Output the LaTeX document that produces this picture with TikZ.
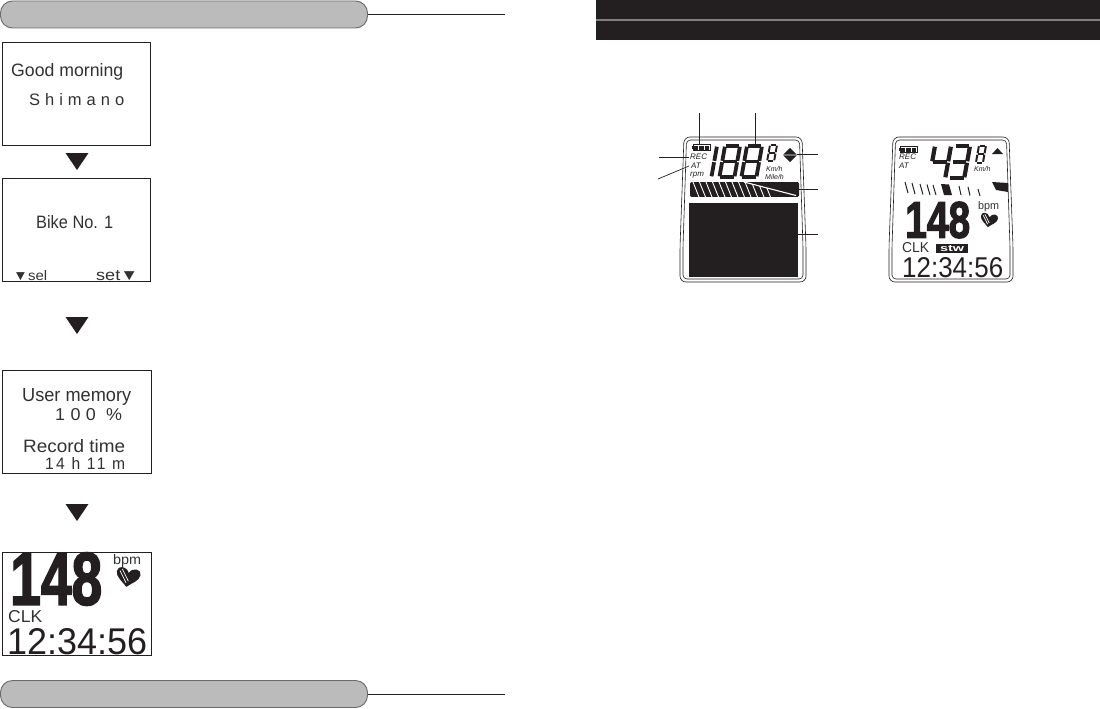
\documentclass[tikz,border=0pt]{standalone}
\usepackage{fontspec}
\setmainfont{Liberation Sans}
\newfontfamily\heavyfont[FakeBold=2.5]{Liberation Sans Bold}
\usetikzlibrary{arrows.meta, positioning, calc}
\definecolor{inkcolor}{RGB}{35,31,32}
\definecolor{pillcolor}{RGB}{187,187,187}
\definecolor{pilledge}{RGB}{105,105,105}
\definecolor{bandline}{RGB}{128,128,128}
\definecolor{lcdcolor}{RGB}{50,50,50}
\tikzset{
  screen/.style  = {draw=inkcolor, line width=0.9pt, fill=white, inner sep=0pt, outer sep=0pt,
                    minimum width=148pt, minimum height=103pt},
  pill/.style    = {draw=pilledge, line width=0.9pt, fill=pillcolor, rounded corners=12pt,
                    inner sep=0pt, outer sep=0pt, minimum width=367pt, minimum height=27pt},
  lcd/.style     = {anchor=west, inner sep=0pt, text=lcdcolor},
  tag/.style     = {anchor=west, inner sep=0pt, text=inkcolor, font=\fontsize{8}{8}\selectfont\itshape},
  smalltag/.style = {tag, font=\fontsize{7}{7}\selectfont\itshape},
  rule/.style    = {draw=inkcolor, line width=0.7pt},
  marker/.style  = {fill=inkcolor},
  seg/.style     = {draw=inkcolor, shorten >=0.7pt, shorten <=0.7pt},
  shell/.style   = {draw=inkcolor, line width=0.6pt, rounded corners=6pt, fill=white},
}
\newcommand{\lcdwh}[3]{\resizebox{#1pt}{#2pt}{#3}}
% one segment each, in a unit digit
\newcommand{\segA}{\draw[seg] (0,0) -- (1,0);}
\newcommand{\segB}{\draw[seg] (1,0) -- (1,.5);}
\newcommand{\segC}{\draw[seg] (1,.5) -- (1,1);}
\newcommand{\segD}{\draw[seg] (0,1) -- (1,1);}
\newcommand{\segE}{\draw[seg] (0,.5) -- (0,1);}
\newcommand{\segF}{\draw[seg] (0,0) -- (0,.5);}
\newcommand{\segG}{\draw[seg] (0,.5) -- (1,.5);}
\newcommand{\segdigit}[6]{%
  \begin{scope}[shift={(#1,#2)}, x=#3pt, y=-#4pt, xslant=0.18, line width=#5pt]
    \foreach \s in {#6} {\csname seg\s\endcsname}
  \end{scope}}
\newcommand{\shellform}[3]{%
  \begin{scope}[shift={(#1,#2)}]
    \draw[shell] (4,0) -- (#3-4,0) -- (#3,110) -- (#3,145) -- (0,145) -- (0,110) -- cycle;
    \draw[shell, rounded corners=4pt] (6.5,3) -- (#3-6.5,3) -- (#3-3,110) -- (#3-3,142) -- (3,142) -- (3,110) -- cycle;
  \end{scope}}
\newcommand{\bpmheart}[3]{%
  \begin{scope}[shift={(#1,#2)}, scale=#3, rotate=-10]
    \fill[inkcolor] (0,10) .. controls (-5,5) and (-12,2) .. (-12,-4) .. controls (-12,-10) and (-3,-11) .. (0,-4)
      .. controls (3,-11) and (12,-10) .. (12,-4) .. controls (12,2) and (5,5) .. (0,10) -- cycle;
    \draw[white, line width=0.7pt] (-9,-5) -- (-1,6) (-7,-7) -- (1,4);
  \end{scope}}
\newcommand{\battery}[2]{%
  \begin{scope}[shift={(#1,#2)}]
    \draw[inkcolor, line width=0.6pt] (0,0) rectangle (17,6);
    \fill[inkcolor] (-1.2,1.5) rectangle (0,4.5);
    \foreach \x in {1.2,6.4,11.6} {\fill[inkcolor] (\x,1) rectangle ++(4.2,4);}
  \end{scope}}

\begin{document}
\begin{tikzpicture}[x=1pt, y=-1pt]
  \useasboundingbox (0,0) rectangle (1100,709);

  % grey pills
  \node[pill] (toppill) at (184,14.5) {};
  \coordinate (topend) at (505,14.5);
  \draw[rule] (toppill.east) -- (topend);
  \node[pill] (botpill) at (184,694) {};
  \coordinate (botend) at (505,694);
  \draw[rule] (botpill.east) -- (botend);

  % four screens
  \node[screen] (morning) at (76.5,93.5) {};
  \node[screen] (bike) at (76.5,229.5) {};
  \node[screen, minimum width=149pt] (memory) at (77,422) {};
  \node[screen, minimum width=149pt] (clock) at (77,603.5) {};

  \foreach \y in {153,317,504} {
    \fill[marker] (65.5,\y) -- (88.5,\y) -- (77,{\y+17}) -- cycle;
  }

  % screen texts
  \node[lcd] (good) at (11,72) {\lcdwh{112}{13}{Good morning}};
  \node[lcd] (name) at (29,100) {\lcdwh{95}{12}{\addfontfeature{LetterSpace=30}Shimano}};
  \node[lcd] (bikeno) at (36,222) {\lcdwh{77}{13}{Bike No. 1}};
  \node[lcd] (sel) at (13,276) {\lcdwh{34}{10}{▼sel}};
  \node[lcd] (set) at (96,276) {\lcdwh{42}{10}{set▼}};
  \node[lcd] (usermem) at (22,397) {\lcdwh{109}{13}{User memory}};
  \node[lcd] (percent) at (55,415) {\lcdwh{67}{12}{\addfontfeature{LetterSpace=30}100 \%}};
  \node[lcd] (rectime) at (23,446) {\lcdwh{102}{13}{Record time}};
  \node[lcd] (hours) at (45,463) {\lcdwh{80}{12}{\addfontfeature{LetterSpace=15}14 h 11 m}};

  \node[lcd, text=inkcolor] (bignum) at (10,579) {\lcdwh{92}{52}{\heavyfont 148}};
  \node[lcd] (bpm) at (113,561) {\lcdwh{28}{10}{bpm}};
  \bpmheart{128}{577}{1}
  \node[lcd] (clk) at (8,617) {\lcdwh{34}{12}{CLK}};
  \node[lcd, text=inkcolor] (time) at (7,642) {\lcdwh{140}{26}{12:34:56}};

  % dark band, top right
  \fill[inkcolor] (596,0) rectangle (1100,40);
  \fill[bandline] (596,19) rectangle (1100,21);

  % left display
  \shellform{680}{137}{126}
  \battery{693}{144.5}
  \node[tag] (rec) at (690,157) {REC};
  \node[tag] (at) at (691,166) {AT};
  \node[tag] (rpm) at (690,175) {rpm};
  \segdigit{702}{146}{15}{31}{3.8}{B,C}
  \segdigit{725}{146}{15}{31}{3.8}{A,B,C,D,E,F,G}
  \segdigit{747}{146}{15}{31}{3.8}{A,B,C,D,E,F,G}
  \segdigit{770}{145}{7}{16}{1.9}{A,B,C,D,E,F,G}
  \fill[inkcolor] (790,148) -- (796.8,154.6) -- (783.2,154.6) -- cycle;
  \fill[inkcolor] (790,162) -- (796.8,155.4) -- (783.2,155.4) -- cycle;
  \node[smalltag] (kmh) at (766,169) {Km/h};
  \node[smalltag] (mile) at (765,177) {Mile/h};
  \begin{scope}
    \clip[rounded corners=2pt] (690,182) rectangle (799,197);
    \fill[inkcolor] (690,182) rectangle (799,197);
    \foreach \x in {693,699.5,...,770} {
      \draw[white, line width=0.9pt] (\x,182) -- ({\x+6},197);
    }
    \fill[inkcolor] (745,182) -- (799,182) -- (799,197) -- (797,195.5) -- cycle;
    \draw[white, line width=1.1pt] (744,182) -- (796,195.5);
  \end{scope}
  \fill[inkcolor] (689,203) rectangle (798,277);

  % lines leading out of the left display
  \foreach \n/\ax/\ay/\bx/\by in {batt/699.5/113/699.5/144, num/755.7/113/755.7/146,
      recl/659/157.5/689/157.5, atl/658/179/689/166, dirl/797/154/818/154,
      barl/799/189/818/189, areal/798/234/818/234} {
    \coordinate (\n a) at (\ax,\ay);
    \coordinate (\n b) at (\bx,\by);
    \draw[rule] (\n a) -- (\n b);
  }

  % right display
  \shellform{889}{137}{124}
  \battery{900}{146.5}
  \node[tag] (recr) at (899,157) {REC};
  \node[tag] (atr) at (899,166) {AT};
  \segdigit{935}{146}{16}{32}{4.2}{B,C,F,G}
  \segdigit{955}{146}{15}{32}{4.2}{A,B,C,D,G}
  \segdigit{979}{145.5}{7}{17}{2}{A,B,C,D,E,F,G}
  \fill[inkcolor] (992,154) -- (1003,154) -- (997.5,148) -- cycle;
  \node[smalltag] (kmhr) at (974,169) {Km/h};
  \foreach \x/\t/\b in {905/182/193, 912/183/194, 920/184/194.5, 927/184.5/195, 933/185/195} {
    \draw[inkcolor, line width=1pt] (\x,\t) -- ({\x+3},\b);
  }
  \fill[inkcolor] (941,184) -- (949,184.5) -- (952,195) -- (944,195) -- cycle;
  \foreach \x/\t/\b in {959/186/195, 968/187/195.5, 978/189/196} {
    \draw[inkcolor, line width=1pt] (\x,\t) -- ({\x+2},\b);
  }
  \fill[inkcolor] (992,182) -- (1008,183) -- (1008,192) -- (996,190) -- cycle;
  \node[lcd, text=inkcolor] (bignumr) at (905,220) {\lcdwh{65}{36}{\heavyfont 148}};
  \node[lcd] (bpmr) at (978,207) {\lcdwh{21}{8}{bpm}};
  \bpmheart{989}{220}{.72}
  \node[lcd] (clkr) at (902,248) {\lcdwh{27}{10}{CLK}};
  \node[fill=inkcolor, text=white, inner sep=0pt, minimum width=32pt, minimum height=9pt] (stw) at (952,248.5)
    {\lcdwh{24}{6}{\bfseries stw}};
  \node[lcd, text=inkcolor] (timer) at (902,268) {\lcdwh{101}{20}{12:34:56}};
\end{tikzpicture}
\end{document}
